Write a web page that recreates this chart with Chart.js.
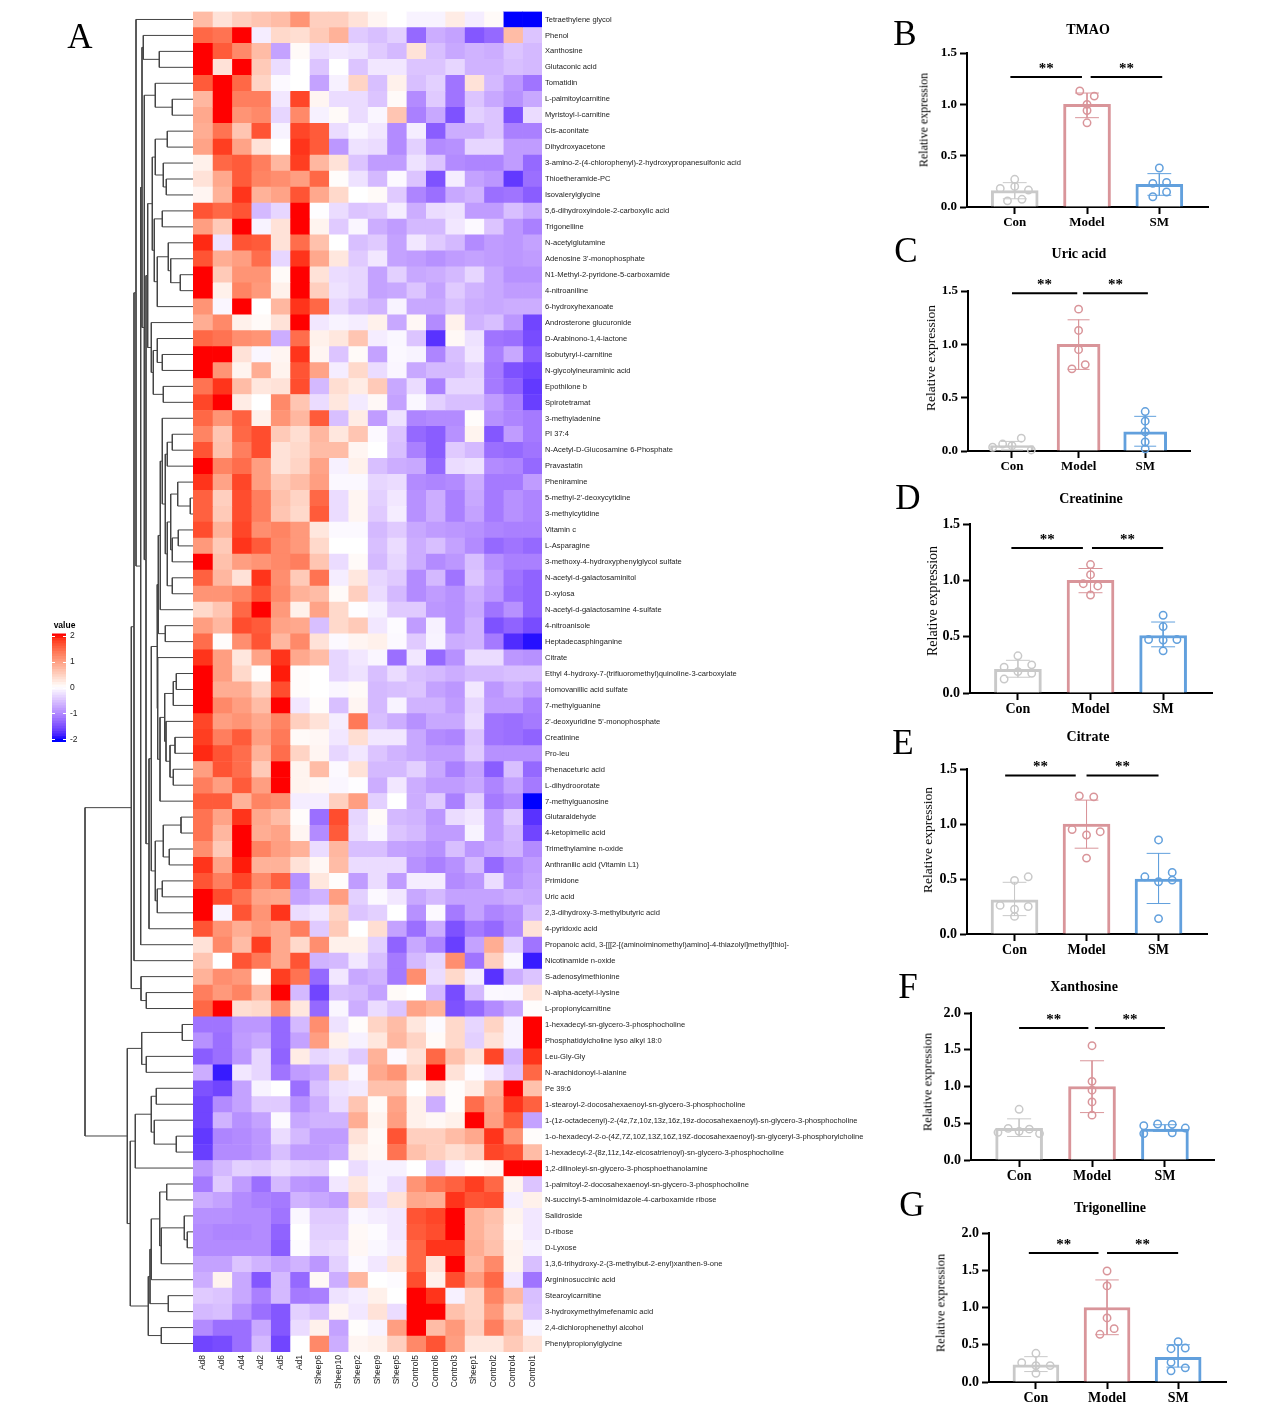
<!DOCTYPE html>
<html>
<head>
<meta charset="utf-8">
<style>
  html, body { margin: 0; padding: 0; background: #fff; }
  #page { position: relative; width: 1269px; height: 1413px; overflow: hidden; }
  canvas { position: absolute; }
  .txt { position: absolute; white-space: nowrap; color: #000; font-family: "Liberation Serif", serif; transform: translate(-50%, -50%); }
</style>
<script src="https://cdn.jsdelivr.net/npm/chart.js@4"></script>
</head>
<body>
<div id="page"></div>
<script>
// heatmap
const sampleNames = ["Ad8","Ad6","Ad4","Ad2","Ad5","Ad1","Sheep6","Sheep10","Sheep2","Sheep9","Sheep5","Control5","Control6","Control3","Sheep1","Control2","Control4","Control1"];
const metaboliteNames = [
  "Tetraethylene glycol","Phenol","Xanthosine","Glutaconic acid","Tomatidin","L-palmitoylcarnitine","Myristoyl-l-carnitine","Cis-aconitate","Dihydroxyacetone",
  "3-amino-2-(4-chlorophenyl)-2-hydroxypropanesulfonic acid","Thioetheramide-PC","Isovalerylglycine","5,6-dihydroxyindole-2-carboxylic acid","Trigonelline","N-acetylglutamine",
  "Adenosine 3'-monophosphate","N1-Methyl-2-pyridone-5-carboxamide","4-nitroaniline","6-hydroxyhexanoate","Androsterone glucuronide","D-Arabinono-1,4-lactone","Isobutyryl-l-carnitine",
  "N-glycolylneuraminic acid","Epothilone b","Spirotetramat","3-methyladenine","PI 37:4","N-Acetyl-D-Glucosamine 6-Phosphate","Pravastatin","Pheniramine","5-methyl-2'-deoxycytidine",
  "3-methylcytidine","Vitamin c","L-Asparagine","3-methoxy-4-hydroxyphenylglycol sulfate","N-acetyl-d-galactosaminitol","D-xylosa","N-acetyl-d-galactosamine 4-sulfate","4-nitroanisole",
  "Heptadecasphinganine","Citrate","Ethyl 4-hydroxy-7-(trifluoromethyl)quinoline-3-carboxylate","Homovanillic acid sulfate","7-methylguanine","2'-deoxyuridine 5'-monophosphate","Creatinine",
  "Pro-leu","Phenaceturic acid","L-dihydroorotate","7-methylguanosine","Glutaraldehyde","4-ketopimelic acid","Trimethylamine n-oxide","Anthranilic acid (Vitamin L1)","Primidone","Uric acid",
  "2,3-dihydroxy-3-methylbutyric acid","4-pyridoxic acid","Propanoic acid, 3-[[[2-[(aminoiminomethyl)amino]-4-thiazolyl]methyl]thio]-","Nicotinamide n-oxide","S-adenosylmethionine",
  "N-alpha-acetyl-l-lysine","L-propionylcarnitine","1-hexadecyl-sn-glycero-3-phosphocholine","Phosphatidylcholine lyso alkyl 18:0","Leu-Gly-Gly","N-arachidonoyl-l-alanine","Pe 39:6",
  "1-stearoyl-2-docosahexaenoyl-sn-glycero-3-phosphocholine","1-(1z-octadecenyl)-2-(4z,7z,10z,13z,16z,19z-docosahexaenoyl)-sn-glycero-3-phosphocholine",
  "1-o-hexadecyl-2-o-(4Z,7Z,10Z,13Z,16Z,19Z-docosahexaenoyl)-sn-glyceryl-3-phosphorylcholine","1-hexadecyl-2-(8z,11z,14z-eicosatrienoyl)-sn-glycero-3-phosphocholine",
  "1,2-dilinoleyl-sn-glycero-3-phosphoethanolamine","1-palmitoyl-2-docosahexaenoyl-sn-glycero-3-phosphocholine","N-succinyl-5-aminoimidazole-4-carboxamide ribose","Salidroside","D-ribose","D-Lyxose",
  "1,3,6-trihydroxy-2-(3-methylbut-2-enyl)xanthen-9-one","Argininosuccinic acid","Stearoylcarnitine","3-hydroxymethylmefenamic acid","2,4-dichlorophenethyl alcohol","Phenylpropionylglycine"
];
const heatValues = [
  [.7,.3,.5,.6,.7,1.1,.5,.5,.3,.1,0,-.1,-.1,.2,-.15,.05,-2,-2],
  [1.5,1.4,2,-.15,.4,.35,.55,.8,-.45,-.55,-.4,-1.3,-.7,-.8,-1.45,-1.3,.7,-.5],
  [2,1.6,1.2,.7,-.8,.05,-.3,-.2,-.25,-.45,-.6,.3,-.55,-.75,-.65,-.7,-.5,-.6],
  [2,.3,2,.55,-.3,0,-.5,0,-.5,-.2,-.2,-.5,-.5,-.35,-.65,-.65,-.55,-.6],
  [1.6,2,1.5,.45,-.05,0,-.8,-.12,.45,-.55,.15,-.55,-.4,-1.2,.3,-.6,-.9,-1.2],
  [.75,2,1.3,1.3,-.2,1.75,.1,-.3,-.3,-.5,.05,-1,-.45,-1.2,-.5,-.75,-.95,-.75],
  [.9,2,1.1,1.2,-.35,1.2,-.12,.05,-.3,-.08,.6,-1.1,-.75,-1.5,-.4,-.5,-1.5,-.3],
  [.85,1.4,.6,1.65,-.1,1.75,1.6,-.3,-.08,-.2,-1,-.15,-1.4,-.7,-.7,-.5,-1.1,-1.1],
  [.95,1.8,.95,.3,0,1.85,1.6,-.9,-.25,-.3,-1,-.4,-1,-.95,-.35,-.35,-.85,-.85],
  [.15,1.5,1.6,1.3,.75,1.8,.75,.3,-.5,-.85,-.85,-.25,-.5,-1,-1.05,-1.05,-.85,-1.3],
  [.3,.9,1.6,1.25,1.15,1,1.5,.03,-.25,-.6,-.05,-.5,-1.5,-.15,-.8,-.9,-1.7,-1.25],
  [.1,.8,1.85,.8,.95,1.65,.9,.4,0,.05,-.45,-1.05,-1.25,-.75,-.65,-1.25,-1.2,-1.4],
  [1.65,1.5,1.65,-.6,-.35,2,-.02,-.3,-.5,-.45,-.15,-.7,-.3,-.25,-.85,-.85,-.55,-.75],
  [1,.55,2,-.1,.3,2,.12,-.45,-.08,-.7,-.85,-.6,-.6,-.2,-.05,-.5,-.9,-1.1],
  [1.9,-.25,1.65,1.6,.3,1.45,.65,0,-.55,-.45,-.8,-.2,-.45,-.6,-1,-.85,-.9,-.8],
  [1.65,.85,1,1.45,-.35,1.85,.9,.25,-.45,-.2,-.8,-.85,-.95,-.85,-.8,-.85,-.9,-.85],
  [2,.55,1.1,1.1,.05,2,.3,-.3,-.35,-.8,-.4,-.75,-.7,-.6,-.35,-.75,-.95,-.95],
  [2,.15,1.25,1.05,.15,2,.5,-.25,-.35,-.8,-.75,-.5,-.8,-.45,-.65,-.75,-.85,-.85],
  [1.1,-.08,2,0,.75,1.85,1.5,-.35,-.55,-.65,-.1,-.75,-.75,-.55,-.7,-.75,-.7,-.7],
  [.85,1.2,.15,.05,.3,2,-.2,-.1,-.15,.15,-.75,.08,-1,.15,-.65,-.55,-.9,-1.6],
  [1.5,1.4,1.15,1.1,-.7,1.45,.15,.25,.6,-.15,-.07,-.5,-1.75,.07,-.25,-1.2,-1.25,-1.55],
  [2,2,.3,-.08,.1,1.85,.1,-.5,.05,-.8,-.06,-.1,-1.05,-.55,-.2,-1.1,-.75,-1.4],
  [2,1.1,.12,.85,.13,1.65,.95,-.15,.4,-.3,-.08,-.75,-.6,-.6,-.4,-1.15,-1.5,-1.6],
  [1.4,1.85,.7,.25,.3,1.7,-.6,.35,.2,.55,-.75,-.3,-1.1,-.35,-.35,-1.15,-1.35,-1.7],
  [1.75,2,.2,0,1.2,.6,-.3,.25,-.18,.07,-.8,-.07,-.4,-.55,-.55,-.85,-1.1,-1.65],
  [1.5,1.1,1.55,.15,1.1,.75,1.6,-.55,.2,-.85,-.25,-1.05,-1,-1,.03,-.95,-1.05,-1.15],
  [1.25,.6,1.5,1.7,.55,.35,.75,.25,.6,-.05,-.5,-1.3,-1.4,-.95,.12,-1.45,-.85,-1.15],
  [1.65,.65,1.3,1.7,.3,.4,.7,.7,.1,0,-.55,-1.1,-1.4,-.45,-.6,-1.25,-1.3,-1.2],
  [2,1.25,1.45,1,.3,.45,.95,-.12,.15,-.55,-.7,-.75,-1.3,-.3,-.25,-1,-1.05,-1.3],
  [1.85,.95,1.75,1,.55,.7,1,-.06,-.06,-.35,-.3,-1,-1.05,-1,-.7,-1.15,-1.15,-.85],
  [1.55,.5,1.7,1.3,.65,.45,1.5,-.3,.1,-.4,-.2,-.95,-.7,-1.1,-.75,-1.15,-.95,-1.05],
  [1.55,.55,1.7,1.3,.6,.4,1.6,-.3,.1,-.45,-.15,-.95,-.7,-1.1,-.8,-1.15,-.95,-1.05],
  [1.7,.8,1.75,1.15,1.25,1.05,.25,-.05,-.05,-.6,-.45,-.75,-.85,-.9,-.95,-1.05,-1.1,-1.1],
  [1.05,.55,1.85,1.6,1.2,1.05,.4,0,0,-.55,-.3,-.7,-.55,-.8,-1,-1.3,-1.2,-1.3],
  [2,.65,1,1.1,1.2,1.3,.6,-.3,.05,-.6,-.35,-.7,-1,-.9,-.55,-.95,-1.1,-1.1],
  [1.55,.75,.3,1.85,1.15,.55,1.4,-.15,.25,-.35,-.45,-1,-.6,-1.2,-.5,-.85,-1.2,-1.35],
  [1.1,1.1,1.25,1.65,1.2,.8,.7,.05,.5,-.3,-.6,-1,-.85,-.95,-.7,-.9,-1.25,-1.35],
  [.4,.6,1.5,2,1.05,.15,.95,.4,-.02,-.12,-.45,-.45,-.9,-.95,-.75,-1.2,-.95,-1.35],
  [1,.75,1.7,1.6,.95,.9,-.55,.4,.55,-.2,-.03,-.85,-.12,-.95,-.65,-1.5,-1.35,-1.55],
  [1.45,.03,1.15,1.65,.75,1.2,.3,-.05,.1,.15,-.05,-.45,-.1,-.7,-.65,-1.15,-1.8,-1.95],
  [1.85,1,.25,.95,1.85,.9,.7,-.35,-.2,-.08,-1.25,-.2,-1.3,-.95,-.3,-.3,-.9,-.95],
  [2,1,.4,.02,1.95,.03,0,-.35,-.25,-.55,-.3,-.55,-.6,-.7,-.6,-.6,-.55,-.55],
  [2,.85,.85,.45,1.7,.03,0,-.08,.05,-.6,-.55,-.5,-.8,-.9,-.2,-.9,-.7,-.85],
  [2,1.2,1,.7,2,-.2,.03,-.55,.1,-.6,-.1,-.65,-.65,-.85,-.35,-.85,-.85,-1.1],
  [1.75,1,1.1,.9,1.25,.5,.3,-.15,1.35,-.55,-.7,-.95,-.75,-.75,-.3,-1.2,-1.25,-1.15],
  [1.8,1.3,1.6,1,1.35,.05,.08,-.2,.35,-.2,-.2,-.75,-1,-1.05,-.5,-1.2,-1.25,-1.35],
  [1.9,1.65,1.45,.8,1.45,.45,.1,-.35,-.2,-.5,-.65,-.75,-.85,-.85,-.45,-.95,-.95,-.95],
  [1,1.65,1.45,.55,2,.12,.7,-.05,.3,-.6,-.6,-.4,-.75,-1.1,-.8,-1.4,-.55,-1.3],
  [1.3,1,1.6,1,2,.12,.08,-.08,-.02,-.7,-.2,-.7,-.85,-.85,-.75,-1.05,-.8,-1.15],
  [1.6,1.6,.8,1.25,1.15,-.15,-.15,.5,1,-.4,0,-.7,-.45,-1.1,-.4,-1.15,-1,-2],
  [1.4,.95,1.85,.9,.7,.03,-1.25,1.7,-.35,.05,-.6,-.65,-.9,-.3,-.2,-.85,-.45,-1.75],
  [1.4,.75,2,.85,.95,.1,-1,1.6,-.3,-.08,-.5,-.6,-.85,-.85,-.1,-.85,-.6,-1.6],
  [1.15,.55,2,1.25,1,.8,-.3,.75,-.55,-.55,-.8,-.85,-.95,-.55,-.9,-.75,-.65,-1],
  [1.85,.95,1.95,.8,.8,.3,.08,.7,-.3,-.3,-.3,-.95,-1.1,-.95,-.6,-1.3,-1,-.85],
  [1.65,1.3,1.75,1.2,1.55,-.95,.25,.03,-.85,-.3,-.85,-.15,-.15,-1,-.9,-.3,-.95,-.8],
  [2,1.7,1.4,.95,.9,-.8,-.65,1,-.4,-.05,-.2,-.75,-.6,-.8,-.8,-.8,-.7,-.75],
  [2,-.1,1.65,1.1,1.85,-.3,-.2,.45,-.5,-.4,0,-.95,-.05,-1.15,-.8,-1.05,-.95,-.6],
  [1.65,1.1,.85,1.05,.9,1.3,-.45,.55,0,.35,-.8,-1.25,-.7,-1.5,-1.15,-1.3,-1,.3],
  [.3,1.2,.7,1.8,.9,.4,1.15,.15,.15,-.4,-1.35,-.75,-1.05,-1.65,-.8,.85,-.4,-1.2],
  [.6,0,1.65,1.35,.9,1.65,-.65,-.6,-.2,-.55,-1.15,-.6,-.35,1.15,-1.2,.5,-.07,-1.9],
  [.8,1.15,1.05,.03,1.8,1.4,-1.3,-.2,-.75,-.65,-1.15,1.15,-.3,.4,-.15,-1.75,-.7,-.5],
  [1.3,1.05,1.25,.75,2,-.6,-1.6,-.55,-.6,-.8,.05,0,-.6,-1.55,-.6,-.06,-.07,.3],
  [1.5,2,.35,.4,1.15,.25,-1.3,-.08,-.7,-.3,-.5,.95,.8,-1.5,-1.3,-1,-.75,.03],
  [-1.2,-1.2,-.9,-.9,-1.3,-.6,1.15,-.25,.03,.45,.7,.25,-.04,.4,-.35,.45,-.1,2],
  [-.95,-1.25,-.85,-.75,-1.3,-.8,1,.15,-.12,.25,.75,.45,.05,.4,-.4,.3,-.1,2],
  [-1.4,-1.25,-.9,-.35,-1.35,.2,-.35,-.25,-.45,.8,-.05,.3,1.5,.65,.3,1.75,-.65,1.85],
  [-.7,-1.9,-.2,-.35,-1.2,-.85,-.75,.45,-.08,.9,1.1,.45,2,.3,-.03,-.2,-.5,1.5],
  [-1.5,-1.6,-.8,-.1,0,-1.25,-.55,-.25,-.18,.65,.65,0,.3,.03,.2,.8,2,.65],
  [-1.6,-1,-.8,-.45,-.45,-.95,-.7,-.3,.6,.05,.95,.15,-.7,.03,1.45,.95,1.85,1.55],
  [-1.6,-.65,-.95,-.8,-.05,-.75,-.65,-.65,.85,.12,1,.15,.08,.15,2,1,1.6,-.8],
  [-1.7,-1.05,-1,-.9,-.3,-.6,-.85,-.85,.3,.05,1.65,.5,.5,.7,.9,1.85,1.1,.03],
  [-1.65,-1,-1,-.9,-.55,-.85,-.85,-.75,.15,.07,1.4,.65,.5,.35,.5,1.75,1.65,.7],
  [-.9,-.6,-.4,-.45,-.3,-.4,-.45,0,-.3,-.12,-.12,0,-.45,-.12,.02,.08,2,2],
  [-1.15,-.45,-.85,-1.25,-.6,-.9,-.95,-.2,.25,-.1,-.3,1.1,1.4,1.55,1.8,1.5,.12,-.5],
  [-.7,-.8,-1,-1.1,-1.15,-.65,-.75,-.85,.45,-.3,.3,.9,.85,1.85,1.65,1.7,-.15,.15],
  [-.95,-.95,-1,-1,-1.2,-.08,-.45,-.45,-.08,-.15,-.2,1.65,1.75,2,.8,.65,.12,-.2],
  [-1,-1.05,-1.05,-1,-1.35,0,-.4,-.4,.06,-.03,-.2,1.6,1.7,2,.8,.6,.07,-.2],
  [-1,-1,-1,-1,-1.4,-.03,-.35,-.3,.08,-.07,-.15,1.5,1.85,1.85,.85,.65,.13,-.12],
  [-.8,-.8,-.5,-.65,-.8,-.65,-.9,-.4,-.05,-.2,.25,1.5,.3,2,.75,1.2,.12,-.55],
  [-.7,.12,-.75,-1.45,-.6,-1.3,.07,-.7,.75,0,-.03,1.7,.15,1.7,1,1.5,-.2,-1.2],
  [-.45,-.5,-.75,-1.1,-.6,-1.15,-1.1,-.25,-.15,.15,0,2,1.85,-.12,.45,1.25,.75,-.55],
  [-.6,-.55,-.95,-1.25,-1.45,-.4,-.55,.1,-.2,.3,-.3,2,2,.65,.45,1.05,.4,-.5],
  [-1,-1.25,-1.25,-.75,-1.45,-.3,.15,-.8,.02,-.1,1,2,.7,1.05,.5,1.3,.7,-.1],
  [-1.6,-1.55,-1.25,-.6,-1.6,0,1.2,-.7,.1,.15,.5,1.2,1.65,1,.25,.25,.55,.3]
];

// dendrogram: [merge height, child, child], a bare number is a row of the heatmap
const geneTreeTop = [61.7,
  [59,
    [57, 1,
      [52.3,
        [51,
          [49.7, 2, [33.7, 3, 4]],
          [48.7,
            [37.7, 5, [20.7, 6, 7]],
            [47,
              [45.3,
                [40.7,
                  [37.7, [25.7, 8, 9], [29.7, 10, [26.7, 11, 12]]],
                  [38.7, [30.7, 13, 14], [35.7, [24.7, 15, [22.3, 16, [12.7, 17, 18]]], 19]]],
                [41.7, 20, [39.7, [35.7, 21, [30.7, 22, 23]], [29.7, 24, 25]]]],
              [44,
                [41.7,
                  [36,
                    [34.7,
                      [32.7,
                        [30.7, 26,
                          [27.7,
                            [25.7, [20.7, 27, 28], 29],
                            [25.7,
                              [22.3, [15.3, 30, [2.7, 31, 32]], [20.7, [14.7, 33, 34], 35]],
                              [20.7, 36, 37]]]],
                        38],
                      [27.7, 39, 40]],
                    [35.3, 41,
                      [33,
                        [28.3, [19.7, [16.7, 42, 43], 44], [27, 45, [23, [18, 46, 47], [19.7, 48, 49]]]],
                        50]]],
                  [37.7, [29.7, [12, 51, 52], [23.7, 53, 54]], [35.7, [30.7, 55, 56], 57]]],
                58]]]],
        59]],
    60],
  [52, 61, [46.7, 62, 63]]];
const geneTreeBottom = [65.7,
  [51.3, [10.7, 64, 65], [46.7, 66, 67]],
  [62.7,
    [57.7, [41.7, [36.7, 68, 69], [38.7, 70, [16.7, 71, 72]]], 73],
    [44.7,
      [43,
        [41.7, [33.3, [26.3, 74, 75], [31.7, [8.7, 76, [5.7, 77, 78]], 79]], 80],
        [24.7, 81, 82]],
      [31.7, 83, 84]]]];
const geneTree = [108, geneTreeTop, geneTreeBottom];

// bar panels
const groupNames = ["Con", "Model", "SM"];

const tmaoMeans = [.16, 1, .22];
const tmaoLow = [.08, .87, .114];
const tmaoHigh = [.237, 1.11, .325];
const tmaoCon = [.18, .27, .2, .165, .06, .075];
const tmaoModel = [1.13, 1.08, 1, .94, .82];
const tmaoSM = [.38, .23, .24, .146, .1];

const uricMeans = [.05, 1, .18];
const uricLow = [.01, .765, .045];
const uricHigh = [.09, 1.23, .325];
const uricCon = [.035, .065, .05, .12, .01];
const uricModel = [1.33, 1.13, .95, .81, .77];
const uricSM = [.37, .28, .18, .085, .02];

const creaMeans = [.21, 1, .51];
const creaLow = [.14, .89, .41];
const creaHigh = [.29, 1.105, .63];
const creaCon = [.33, .23, .25, .19, .175, .124];
const creaModel = [1.14, 1.05, .97, .95, .87];
const creaSM = [.69, .59, .475, .47, .475, .374];

const citrMeans = [.31, 1, .5];
const citrLow = [.167, .78, .277];
const citrHigh = [.47, 1.217, .733];
const citrCon = [.52, .487, .26, .25, .225, .16];
const citrModel = [1.256, 1.247, .95, .93, .9, .69];
const citrSM = [.855, .56, .52, .49, .475, .14];

const xantMeans = [.43, 1, .42];
const xantLow = [.32, .645, .39];
const xantHigh = [.56, 1.35, .48];
const xantCon = [.69, .43, .42, .39, .376, .36];
const xantModel = [1.555, 1.07, .95, .79, .61];
const xantSM = [.49, .467, .485, .435, .36, .37];

const trigMeans = [.23, 1, .33];
const trigLow = [.14, .635, .2];
const trigHigh = [.34, 1.37, .5];
const trigCon = [.385, .26, .22, .22, .116];
const trigModel = [1.49, 1.29, .86, .716, .64];
const trigSM = [.54, .447, .456, .264, .19, .15];

const groupColors = ["#c9c9c9", "#d9959a", "#62a0dd"];
const page = document.getElementById("page");
const serif = '"Liberation Serif", serif';
const sans = '"Liberation Sans", sans-serif';
Chart.defaults.animation = false;
Chart.defaults.responsive = false;
Chart.defaults.plugins.legend.display = false;
Chart.defaults.plugins.tooltip.enabled = false;

function addCanvas(left, top, width, height) {
  const c = document.createElement("canvas");
  c.width = width;
  c.height = height;
  c.style.left = left + "px";
  c.style.top = top + "px";
  page.appendChild(c);
  return c.getContext("2d");
}

function addText(text, x, y, font, rotate) {
  const d = document.createElement("div");
  d.className = "txt";
  d.textContent = text;
  d.style.left = x + "px";
  d.style.top = y + "px";
  d.style.font = font;
  if (rotate) d.style.transform = "translate(-50%, -50%) rotate(-90deg)";
  page.appendChild(d);
}

// stop tick labels from pushing the plot area in
function noLabelPadding(s) {
  s.paddingTop = s.paddingBottom = s.paddingLeft = s.paddingRight = 0;
}

// white to red / white to blue, interpolated in Lab like the heatmap legend
function labToCss(L, a, b) {
  const f = t => t > 6 / 29 ? t * t * t : 3 * (6 / 29) * (6 / 29) * (t - 4 / 29);
  const fy = (L + 16) / 116;
  const X = .95047 * f(fy + a / 500), Y = f(fy), Z = 1.08883 * f(fy - b / 200);
  const lin = [3.2406 * X - 1.5372 * Y - .4986 * Z, -.9689 * X + 1.8758 * Y + .0415 * Z, .0557 * X - .204 * Y + 1.057 * Z];
  const out = lin.map(c => {
    c = Math.min(1, Math.max(0, c));
    return Math.round(255 * (c <= .0031308 ? 12.92 * c : 1.055 * Math.pow(c, 1 / 2.4) - .055));
  });
  return `rgb(${out.join(",")})`;
}
function valueColor(v) {
  const t = Math.min(1, Math.abs(v) / 2);
  return v >= 0
    ? labToCss(100 - 46.8 * t, 80.1 * t, 67.2 * t)
    : labToCss(100 - 67.7 * t, 79.2 * t, -107.9 * t);
}

// heatmap, one stacked bar per row
new Chart(addCanvas(193, 11, 680, 1400), {
  type: "bar",
  data: {
    labels: metaboliteNames,
    datasets: sampleNames.map((name, col) => ({
      label: name,
      data: metaboliteNames.map(() => 1),
      backgroundColor: heatValues.map(row => valueColor(row[col])),
      borderWidth: 0,
      barPercentage: 1,
      categoryPercentage: 1
    }))
  },
  options: {
    indexAxis: "y",
    layout: { padding: { top: .5 } },
    scales: {
      x: {
        type: "linear", stacked: true, min: 0, max: 18,
        grid: { display: false, drawTicks: false, tickLength: 0 }, border: { display: false },
        afterBuildTicks: s => { s.ticks = sampleNames.map((_, i) => ({ value: i + .5 })); },
        afterFit: s => { s.height = 59; noLabelPadding(s); },
        ticks: {
          autoSkip: false, minRotation: 90, maxRotation: 90, padding: 3,
          color: "#222", font: { family: sans, size: 8.5 },
          callback: (v, i) => sampleNames[i]
        }
      },
      y: {
        position: "right", stacked: true,
        grid: { display: false, drawTicks: false, tickLength: 0 }, border: { display: false },
        afterFit: s => { s.width = 331; noLabelPadding(s); },
        ticks: { autoSkip: false, padding: 3, color: "#222", font: { family: sans, size: 7.55 } }
      }
    }
  }
});

// dendrogram, each merge is one open bracket in the polyline
const treePath = [];
function walkTree(node) {
  if (typeof node === "number") return { h: 0, y: node };
  const a = walkTree(node[1]), b = walkTree(node[2]);
  treePath.push({ x: a.h, y: a.y }, { x: node[0], y: a.y }, { x: node[0], y: b.y }, { x: b.h, y: b.y }, { x: null, y: null });
  return { h: node[0], y: (a.y + b.y) / 2 };
}
walkTree(geneTree);
new Chart(addCanvas(80, 11, 114, 1342), {
  type: "scatter",
  data: { datasets: [{ data: treePath, showLine: true, borderColor: "#444", borderWidth: 1, pointRadius: 0, clip: false }] },
  options: {
    layout: { padding: { left: 5, right: 1, top: .5, bottom: 1.5 } },
    scales: {
      x: { display: false, min: 0, max: 108, reverse: true },
      y: { display: false, min: .5, max: 84.5, reverse: true }
    }
  }
});

// colour key
const keySteps = [];
for (let v = -2.1; v < 2.1; v += .1) keySteps.push(v);
const keyTicks = [-2, -1, 0, 1, 2];
new Chart(addCanvas(52, 630, 40, 116), {
  type: "bar",
  data: {
    labels: ["value"],
    datasets: keySteps.map(v => ({
      data: [[v, v + .11]], backgroundColor: valueColor(v + .05), borderWidth: 0, barPercentage: 1, categoryPercentage: 1
    }))
  },
  options: {
    layout: { padding: { top: 3.4, bottom: 4.1 } },
    scales: {
      x: { display: false, stacked: true },
      y: {
        position: "right", min: -2.1, max: 2.1,
        grid: { display: false, drawTicks: false, tickLength: 0 }, border: { display: false },
        afterBuildTicks: s => { s.ticks = keyTicks.map(v => ({ value: v })); },
        afterFit: s => { s.width = 26; noLabelPadding(s); },
        ticks: { padding: 4, color: "#222", font: { family: sans, size: 8.5 }, callback: v => String(v) }
      }
    }
  },
  plugins: [{
    id: "keyMarks",
    afterDatasetsDraw(chart) {
      const { ctx, chartArea: a, scales: { y } } = chart;
      ctx.save();
      ctx.strokeStyle = "#fff";
      keyTicks.forEach(v => {
        const p = Math.round(y.getPixelForValue(v)) + .5;
        ctx.beginPath();
        ctx.moveTo(a.left, p); ctx.lineTo(a.left + 3, p);
        ctx.moveTo(a.right - 3, p); ctx.lineTo(a.right, p);
        ctx.stroke();
      });
      ctx.restore();
    }
  }]
});
addText("value", 64.5, 625, `bold 8.5px ${sans}`);
addText("A", 80, 37, `35px ${serif}`);

// swarm offsets of the open circles, in category widths
const panels = [
  { title: "TMAO", letter: "B", box: [967, 53, 1210, 207], max: 1.5, step: .5, barW: 47, tickSize: 13,
    means: tmaoMeans, low: tmaoLow, high: tmaoHigh, pts: [tmaoCon, tmaoModel, tmaoSM],
    swarm: [[-.2, 0, 0, .19, -.1, .1], [-.1, .1, 0, 0, 0], [0, -.09, .1, .1, -.09]],
    sig: [[-.06, .93], [1.05, 2.04]], sigY: 1.266,
    titleAt: [1088, 30], letterAt: [905, 34], ylabelAt: [924, 120], ylabelSize: 12 },
  { title: "Uric acid", letter: "C", box: [968, 291, 1192, 451], max: 1.5, step: .5, barW: 43, tickSize: 13,
    means: uricMeans, low: uricLow, high: uricHigh, pts: [uricCon, uricModel, uricSM],
    swarm: [[-.29, -.14, 0, .14, .29], [0, 0, 0, .1, -.1], [0, 0, 0, 0, 0]],
    sig: [[0, .98], [1.065, 2.04]], sigY: 1.48,
    titleAt: [1079, 254], letterAt: [906, 251], ylabelAt: [931, 358], ylabelSize: 13.5 },
  { title: "Creatinine", letter: "D", box: [970, 524, 1214, 693], max: 1.5, step: .5, barW: 47, tickSize: 14,
    means: creaMeans, low: creaLow, high: creaHigh, pts: [creaCon, creaModel, creaSM],
    swarm: [[0, -.19, .19, 0, .19, -.19], [0, 0, -.1, .1, 0], [0, 0, -.2, 0, .19, 0]],
    sig: [[-.09, .895], [1.02, 2]], sigY: 1.288,
    titleAt: [1091, 499], letterAt: [908, 498], ylabelAt: [933, 601], ylabelSize: 14 },
  { title: "Citrate", letter: "E", box: [967, 769, 1209, 934], max: 1.5, step: .5, barW: 47, tickSize: 14,
    means: citrMeans, low: citrLow, high: citrHigh, pts: [citrCon, citrModel, citrSM],
    swarm: [[.19, 0, -.2, .19, 0, 0], [-.1, .1, -.2, .19, 0, 0], [0, .19, -.19, .19, 0, 0]],
    sig: [[-.13, .85], [1, 2]], sigY: 1.442,
    titleAt: [1088, 737], letterAt: [903, 743], ylabelAt: [928, 840], ylabelSize: 13.5 },
  { title: "Xanthosine", letter: "F", box: [971, 1013, 1216, 1160], max: 2, step: .5, barW: 47, tickSize: 14,
    means: xantMeans, low: xantLow, high: xantHigh, pts: [xantCon, xantModel, xantSM],
    swarm: [[0, -.15, .14, 0, -.29, .28], [0, 0, 0, 0, 0], [-.1, -.29, .1, .28, -.29, .1]],
    sig: [[0, .95], [1.04, 2]], sigY: 1.796,
    titleAt: [1084, 987], letterAt: [908, 987], ylabelAt: [928, 1082], ylabelSize: 12.5 },
  { title: "Trigonelline", letter: "G", box: [989, 1233, 1228, 1382], max: 2, step: .5, barW: 46, tickSize: 14,
    means: trigMeans, low: trigLow, high: trigHigh, pts: [trigCon, trigModel, trigSM],
    swarm: [[0, -.2, .2, 0, 0], [0, 0, 0, .1, -.1], [0, -.1, .1, -.1, .1, -.1]],
    sig: [[-.1, .88], [1, 2]], sigY: 1.73,
    titleAt: [1110, 1208], letterAt: [912, 1205], ylabelAt: [941, 1303], ylabelSize: 12.5 }
];

const capW = .165;
function drawPanel(p) {
  const [l, t, r, b] = p.box;
  const axisW = 45, topPad = 30, axisH = 32;
  const datasets = [];
  groupNames.forEach((g, i) => {
    datasets.push({
      type: "scatter", order: 1, clip: false,
      data: p.pts[i].map((v, k) => ({ x: i + p.swarm[i][k], y: v })),
      borderColor: groupColors[i], backgroundColor: "rgba(0,0,0,0)", borderWidth: 1.5, pointRadius: 3.7
    });
    datasets.push({
      type: "scatter", order: 2, clip: false, showLine: true, pointRadius: 0,
      borderColor: groupColors[i], borderWidth: 1,
      data: [
        { x: i - capW, y: p.high[i] }, { x: i + capW, y: p.high[i] }, { x: null, y: null },
        { x: i, y: p.high[i] }, { x: i, y: p.low[i] }, { x: null, y: null },
        { x: i - capW, y: p.low[i] }, { x: i + capW, y: p.low[i] }
      ]
    });
  });
  datasets.push({
    type: "scatter", order: 0, clip: false, showLine: true, pointRadius: 0, borderColor: "#000", borderWidth: 2,
    data: [
      { x: p.sig[0][0], y: p.sigY }, { x: p.sig[0][1], y: p.sigY }, { x: null, y: null },
      { x: p.sig[1][0], y: p.sigY }, { x: p.sig[1][1], y: p.sigY }
    ]
  });
  datasets.push({
    type: "bar", order: 3,
    data: p.means.map((v, i) => ({ x: i, y: v })),
    backgroundColor: "#fff", borderColor: groupColors, borderWidth: 3, barThickness: p.barW
  });
  const tickFont = { family: serif, size: p.tickSize, weight: "bold" };
  new Chart(addCanvas(l - axisW, t - topPad, r - l + axisW + 4, b - t + topPad + axisH), {
    type: "bar",
    data: { datasets },
    options: {
      layout: { padding: { top: topPad, right: 4 } },
      scales: {
        x: {
          type: "linear", offset: false, min: -.66, max: 2.68,
          grid: { offset: false, drawOnChartArea: false, tickLength: 7, tickWidth: 2, tickColor: "#000" },
          border: { color: "#000", width: 2 },
          afterBuildTicks: s => { s.ticks = groupNames.map((_, i) => ({ value: i })); },
          afterFit: s => { s.height = axisH; },
          ticks: { color: "#000", font: tickFont, padding: 1, maxRotation: 0, callback: (v, i) => groupNames[i] }
        },
        y: {
          min: 0, max: p.max,
          grid: { drawOnChartArea: false, tickLength: 7, tickWidth: 2, tickColor: "#000" },
          border: { color: "#000", width: 2 },
          afterFit: s => { s.width = axisW; },
          ticks: { stepSize: p.step, color: "#000", font: tickFont, padding: 3, callback: v => v.toFixed(1) }
        }
      }
    },
    plugins: [{
      id: "stars",
      afterDatasetsDraw(chart) {
        const { ctx, scales: { x, y } } = chart;
        ctx.save();
        ctx.fillStyle = "#000";
        ctx.font = `bold 15px ${serif}`;
        ctx.textAlign = "center";
        ctx.textBaseline = "middle";
        p.sig.forEach(s => ctx.fillText("**", x.getPixelForValue((s[0] + s[1]) / 2), y.getPixelForValue(p.sigY) - 8));
        ctx.restore();
      }
    }]
  });
  addText(p.title, p.titleAt[0], p.titleAt[1], `bold 14px ${serif}`);
  addText(p.letter, p.letterAt[0], p.letterAt[1], `35px ${serif}`);
  addText("Relative expression", p.ylabelAt[0], p.ylabelAt[1], `${p.ylabelSize}px ${serif}`, true);
}
panels.forEach(drawPanel);
</script>
</body>
</html>
